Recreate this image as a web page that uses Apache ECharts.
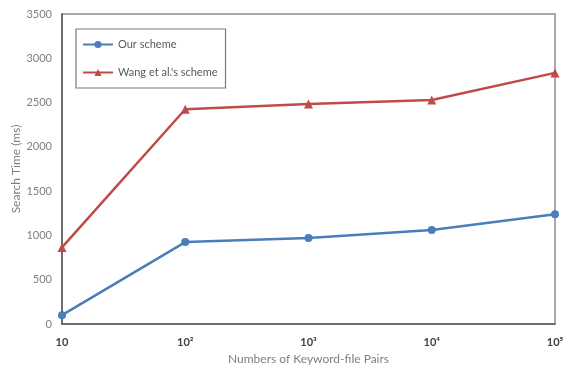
<!DOCTYPE html>
<html>
<head>
<meta charset="utf-8">
<script src="https://cdn.jsdelivr.net/npm/echarts@6/dist/echarts.min.js"></script>
<style>
html,body{margin:0;padding:0;background:#fff;}
#chart{width:563px;height:368px;}
</style>
</head>
<body>
<div id="chart"></div>
<script>
// Numbers of keyword-file pairs (x categories)
const pairLabels = ['10', '10²', '10³', '10⁴', '10⁵'];
// Search time in ms
const ourScheme = [100, 925, 970, 1060, 1240];
const wangScheme = [865, 2425, 2485, 2530, 2835];
const yTicks = { min: 0, max: 3500, interval: 500 };

const chart = echarts.init(document.getElementById('chart'));
const fontFam = 'Lato, "Open Sans", sans-serif';
chart.setOption({
  animation: false,
  grid: {
    left: 62, right: 8, top: 14, bottom: 44,
    containLabel: false, outerBoundsMode: 'none',
    show: true, borderColor: '#8c8c8c', borderWidth: 1.5
  },
  legend: {
    orient: 'vertical', left: 76, top: 29,
    padding: [10, 8, 10, 6], itemGap: 17,
    itemWidth: 30, itemHeight: 9,
    borderColor: '#7a7a7a', borderWidth: 1.2,
    textStyle: { color: '#595959', fontSize: 11, fontFamily: fontFam },
    data: [{ name: 'Our scheme' }, { name: "Wang et al.'s scheme" }]
  },
  xAxis: {
    type: 'category', data: pairLabels, boundaryGap: false,
    axisLine: { lineStyle: { color: '#595959', width: 1.5 } },
    axisTick: { show: false },
    axisLabel: { color: '#404040', fontWeight: 'bold', fontSize: 11, fontFamily: fontFam, margin: 13 },
    name: 'Numbers of Keyword-file Pairs', nameLocation: 'middle', nameGap: 29,
    nameMoveOverlap: false,
    nameTextStyle: { color: '#7f7f7f', fontSize: 12, fontFamily: fontFam }
  },
  yAxis: {
    type: 'value', min: yTicks.min, max: yTicks.max, interval: yTicks.interval,
    splitLine: { show: false },
    axisLine: { show: true, lineStyle: { color: '#595959', width: 1.5 } },
    axisTick: { show: false },
    axisLabel: { color: '#7f7f7f', fontSize: 11, fontFamily: fontFam, margin: 10, formatter: v => String(v) },
    name: 'Search Time (ms)', nameLocation: 'middle', nameGap: 40, nameRotate: 90,
    nameMoveOverlap: false,
    nameTextStyle: { color: '#7f7f7f', fontSize: 12, fontFamily: fontFam }
  },
  series: [
    {
      name: 'Our scheme', type: 'line', data: ourScheme,
      symbol: 'circle', symbolSize: 8,
      lineStyle: { color: '#4a7ebb', width: 2.5 },
      itemStyle: { color: '#4a7ebb' }
    },
    {
      name: "Wang et al.'s scheme", type: 'line', data: wangScheme,
      symbol: 'triangle', symbolSize: 9,
      lineStyle: { color: '#be4b48', width: 2.5 },
      itemStyle: { color: '#be4b48' }
    }
  ]
});
</script>
</body>
</html>
